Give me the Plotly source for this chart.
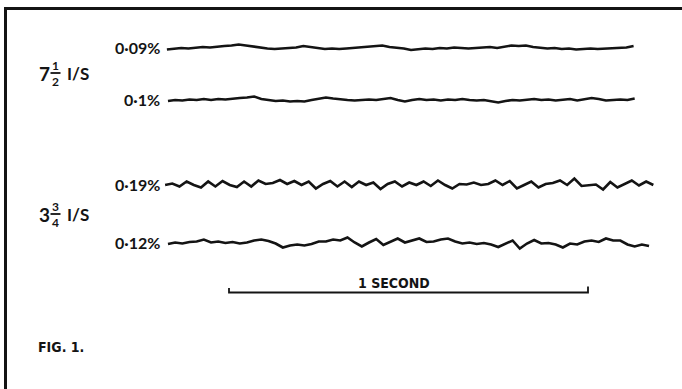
import plotly.graph_objects as go

# flutter traces, deviation in chart units (up = +)
# one sample every 0.02 s, 1 second = the scale bar
STEP = 0.02

trace_labels = ["0·09%", "0·1%", "0·19%", "0·12%"]
trace_starts = [-0.173, -0.170, -0.178, -0.170]

trace_0p09 = [-1, 0, 0.5, 0, 1, 1.5, 1, 2, 2.5, 3, 4, 3, 2, 0.5, 0, -0.5, 0, 0.5,
              1, 2.5, 1.5, 0, -0.5, 0, -0.5, 0, 0.5, 1, 1.5, 2.5, 3, 1.5, 1, 0,
              -1.5, -0.5, 0, -0.5, 0.5, 0, 1, 0.5, 0, 0.5, 1, 1.5, 0.5, 2, 3,
              2.5, 3, 1.5, 0.5, 0, 0.5, -0.5, 0, -1, -0.5, 0, -0.5, 0, 0.5, 0.5,
              1, 2.5]
trace_0p1 = [-1, 0, -0.5, 0.5, 0, 1, 0, 1, 0.5, 1.5, 2, 2.5, 3.5, 1, 0, -1, -0.5,
             -1.5, -1, -1.5, 0, 1.5, 2.5, 1.5, 0.5, 0, -0.5, 0, 0.5, 0, 1, 2, 0,
             -1.5, 0, 1, 0, 0.5, -0.5, 0.5, 0, 1, 0, -0.5, 0, -1.5, -2.5, -1, 0,
             -0.5, 0.5, 1, 0, 0.5, -0.5, 0.5, 1, -0.5, 0.5, 2, 1, -0.5, 0, 0.5,
             0, 1.5]
trace_0p19 = [0, 1.5, -1.5, 3.5, 0, -2.5, 3.5, -1.5, 4, 0, -2, 3.5, -1.5, 4.5, 1,
              2, 5, 1, 4, 0, 3.5, -3.5, 1, 4, -1.5, 3.5, -2, 3.5, 0, 2.5, -4, 1,
              3.5, -1.5, 2.5, 0, 3.5, -1, 4.5, 0, -3.5, 1, 0.5, 2.5, 0, 1, 4.5, 0,
              4, -3.5, 0, 3.5, -2.5, 1, 2, 4.5, 0, 6.5, -1, 0, 0.5, -4.5, 3, -2.5,
              1, 4.5, -0.5, 3.5, 0]
trace_0p12 = [-0.5, 1, 0, 1.5, 2, 4, 1, 2, 0.5, 1.5, 0, 1, 3, 4, 2.5, 0, -4, -2,
              -1, -2, -0.5, 2, 2, 4, 3, 6, 1, -3, 1, 4.5, -1.5, 2, 5, 1, 3, 5,
              1.5, 2, 4, 5, 2, 0, 1, -0.5, 0.5, -1, -3.5, 0, 3, -5, 0, 3.5, 0,
              0.5, -1, -4, 0, -1, 2, 3, 1.5, 5, 3, 3, -1, -3, -1, -2.5]
traces = [trace_0p09, trace_0p1, trace_0p19, trace_0p12]

speeds = [("7", "1", "2"), ("3", "3", "4")]

W, H = 682, 389
BASE = [48.5, 100, 185, 243.5]
INK = "#141414"
FONT = "Lato"
BOLD = "DejaVu Sans Condensed"

fig = go.Figure()

for vals, t0, base in zip(traces, trace_starts, BASE):
    t = [t0 + i * STEP for i in range(len(vals))]
    fig.add_trace(go.Scatter(
        x=t, y=[base - v for v in vals], mode="lines",
        line=dict(color=INK, width=2.6), hoverinfo="skip", showlegend=False))

# 1 second scale bar
fig.add_trace(go.Scatter(
    x=[0, 0, 1, 1], y=[288, 292.5, 292.5, 286.5], mode="lines",
    line=dict(color=INK, width=1.8), hoverinfo="skip", showlegend=False))


def px(x):
    return x / W


anns = []
for lab, base in zip(trace_labels, BASE):
    anns.append(dict(x=px(162), y=base - 1, text=lab, xanchor="right",
                     font=dict(size=16, weight="bold")))

for (whole, num, den), yc in zip(speeds, [73, 214]):
    anns += [
        dict(x=px(44), y=yc, text=whole, font=dict(size=19, weight="bold")),
        dict(x=px(55.5), y=yc - 7.5, text=num, font=dict(size=12, weight="bold")),
        dict(x=px(55.5), y=yc + 8, text=den, font=dict(size=12, weight="bold")),
        dict(x=px(78), y=yc, text="I/S", font=dict(size=17, weight="bold")),
    ]
    fig.add_shape(type="line", xref="paper", yref="y", x0=px(50.5), x1=px(60.5),
                  y0=yc, y1=yc, line=dict(color=INK, width=1.8))

anns.append(dict(x=0.46, y=283, xref="x", text="1 SECOND",
                 font=dict(family=BOLD, size=14, weight="bold")))
anns.append(dict(x=px(61), y=347, text="FIG. 1.",
                 font=dict(family=BOLD, size=14, weight="bold")))

for a in anns:
    a.setdefault("xref", "paper")
    a.setdefault("yref", "y")
    a.setdefault("showarrow", False)
    a.setdefault("xanchor", "center")
    a.setdefault("yanchor", "middle")
    f = a["font"]
    f.setdefault("family", FONT)
    f.setdefault("color", INK)

# frame of the scanned plate: top and left edges only
fig.add_shape(type="line", xref="paper", yref="paper", x0=px(4), x1=1,
              y0=1 - 8.5 / H, y1=1 - 8.5 / H, line=dict(color=INK, width=3))
fig.add_shape(type="line", xref="paper", yref="paper", x0=px(5.5), x1=px(5.5),
              y0=0, y1=1 - 7 / H, line=dict(color=INK, width=3))

fig.update_layout(
    width=W, height=H, margin=dict(l=0, r=0, t=0, b=0),
    paper_bgcolor="white", plot_bgcolor="white",
    xaxis=dict(range=[-229 / 359, (W - 229) / 359], visible=False),
    yaxis=dict(range=[H, 0], visible=False),
    annotations=anns, showlegend=False)

fig.write_html("out.html", config={"displayModeBar": False},
               post_script="document.body.style.margin='0';")
